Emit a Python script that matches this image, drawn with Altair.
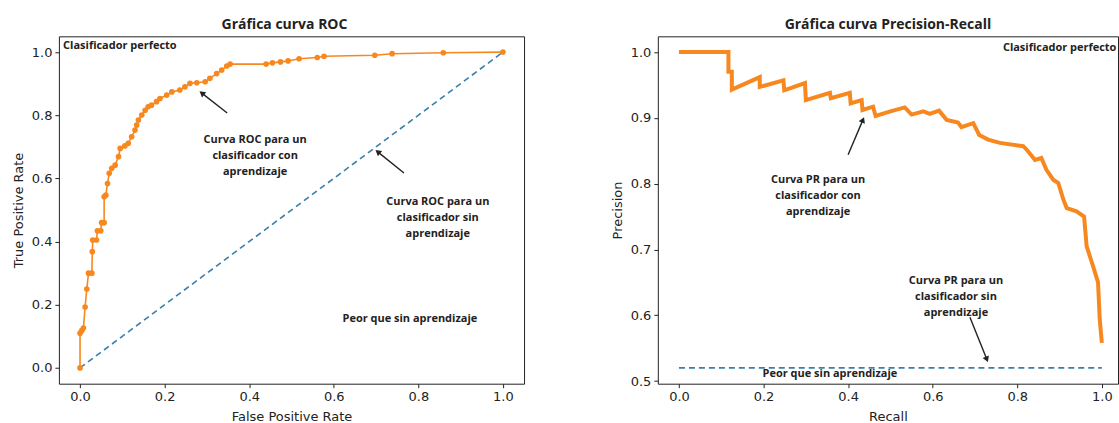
import math
import altair as alt
import pandas as pd

# ---------------- data ----------------
roc_fpr = [0.000, 0.000, 0.004, 0.008, 0.012, 0.016, 0.020, 0.028, 0.029, 0.030, 0.039, 0.041, 0.049, 0.051,
           0.057, 0.057, 0.061, 0.065, 0.069, 0.075, 0.083, 0.091, 0.095, 0.106, 0.114, 0.122, 0.130, 0.134,
           0.138, 0.146, 0.154, 0.161, 0.169, 0.181, 0.189, 0.205, 0.217, 0.236, 0.248, 0.260, 0.276, 0.296,
           0.307, 0.323, 0.335, 0.347, 0.355, 0.440, 0.455, 0.474, 0.492, 0.518, 0.561, 0.577, 0.697, 0.738,
           0.859, 1.000]
roc_tpr = [0.000, 0.110, 0.118, 0.126, 0.193, 0.250, 0.300, 0.300, 0.368, 0.405, 0.405, 0.434, 0.434, 0.460,
           0.460, 0.542, 0.547, 0.584, 0.616, 0.632, 0.642, 0.669, 0.695, 0.703, 0.711, 0.732, 0.753, 0.769,
           0.785, 0.801, 0.816, 0.827, 0.832, 0.843, 0.853, 0.864, 0.874, 0.880, 0.890, 0.901, 0.903, 0.906,
           0.917, 0.932, 0.943, 0.956, 0.962, 0.962, 0.966, 0.969, 0.972, 0.979, 0.983, 0.987, 0.990, 0.995,
           0.998, 1.000]

pr_recall = [0.000, 0.117, 0.117, 0.125, 0.125, 0.191, 0.191, 0.247, 0.249, 0.298, 0.300, 0.357, 0.359, 0.404,
             0.406, 0.432, 0.434, 0.459, 0.465, 0.500, 0.534, 0.550, 0.578, 0.593, 0.615, 0.633, 0.660, 0.668,
             0.696, 0.710, 0.731, 0.759, 0.814, 0.822, 0.842, 0.857, 0.869, 0.885, 0.897, 0.909, 0.917, 0.940,
             0.958, 0.964, 0.979, 0.991, 0.995, 1.000]
pr_precision = [1.000, 1.000, 0.970, 0.970, 0.943, 0.962, 0.947, 0.957, 0.942, 0.953, 0.927, 0.938, 0.930, 0.938,
                0.922, 0.927, 0.912, 0.917, 0.903, 0.910, 0.916, 0.905, 0.910, 0.906, 0.911, 0.897, 0.893, 0.886,
                0.892, 0.874, 0.867, 0.862, 0.857, 0.852, 0.836, 0.839, 0.821, 0.806, 0.801, 0.776, 0.763, 0.758,
                0.750, 0.705, 0.675, 0.650, 0.594, 0.558]

diag_x = [0.0, 1.0]
diag_y = [0.0, 1.0]
base_x = [0.0, 1.0]
base_y = [0.52, 0.52]

x_ticks = [0.0, 0.2, 0.4, 0.6, 0.8, 1.0]
roc_y_ticks = [0.0, 0.2, 0.4, 0.6, 0.8, 1.0]
pr_y_ticks = [0.5, 0.6, 0.7, 0.8, 0.9, 1.0]

# annotations (data coordinates)
roc_texts = ["Clasificador perfecto",
             "Curva ROC para un\nclasificador con\naprendizaje",
             "Curva ROC para un\nclasificador sin\naprendizaje",
             "Peor que sin aprendizaje"]
roc_text_x = [-0.040, 0.414, 0.846, 0.780]
roc_text_y = [1.019, 0.722, 0.525, 0.155]
roc_text_align = ["left", "center", "center", "center"]

pr_texts = ["Clasificador perfecto",
            "Curva PR para un\nclasificador con\naprendizaje",
            "Curva PR para un\nclasificador sin\naprendizaje",
            "Peor que sin aprendizaje"]
pr_text_x = [0.766, 0.329, 0.655, 0.357]
pr_text_y = [1.006, 0.805, 0.652, 0.511]
pr_text_align = ["left", "center", "center", "center"]

roc_arrow_x = [0.348, 0.766]
roc_arrow_y = [0.807, 0.617]
roc_arrow_x2 = [0.288, 0.704]
roc_arrow_y2 = [0.870, 0.684]

pr_arrow_x = [0.400, 0.688]
pr_arrow_y = [0.844, 0.597]
pr_arrow_x2 = [0.435, 0.728]
pr_arrow_y2 = [0.897, 0.533]

# ---------------- style ----------------
W_L, W_R, H = 466, 461, 348
ORANGE = "#f7881f"
BLUE = "#3b7ea8"
INK = "#222222"
ANN_FONT = "Open Sans"

roc_xdom = [-0.05, 1.05]
roc_ydom = [-0.05, 1.05]
pr_xdom = [-0.05, -0.05 + W_R * 1.1 / W_L]
pr_ydom = [0.496, 1.024]


def arrow_df(x, y, x2, y2, xdom, ydom, w, h):
    rows = []
    for a, b, c, d in zip(x, y, x2, y2):
        dx = (c - a) * w / (xdom[1] - xdom[0])
        dy = -(d - b) * h / (ydom[1] - ydom[0])
        ang = math.degrees(math.atan2(dx, -dy)) % 360
        rows.append({"x": a, "y": b, "x2": c, "y2": d, "angle": ang})
    return pd.DataFrame(rows)


def panel(curve_df, ref_df, texts_df, arrows_df, xdom, ydom, yticks, xtitle, ytitle, title, width,
          stroke_w, show_points, title_dx, clip_first):
    xs = alt.Scale(domain=xdom, nice=False, zero=False)
    ys = alt.Scale(domain=ydom, nice=False, zero=False)
    xax = alt.Axis(values=x_ticks, format=".1f", title=xtitle, titlePadding=7)
    yax = alt.Axis(values=yticks, format=".1f", title=ytitle, titlePadding=6)

    ref = alt.Chart(ref_df).mark_line(color=BLUE, strokeDash=[6, 4], strokeWidth=1.6).encode(
        x=alt.X("x:Q", scale=xs, axis=xax),
        y=alt.Y("y:Q", scale=ys, axis=yax),
        order="i:Q",
    )
    line = alt.Chart(curve_df).mark_line(color=ORANGE, strokeWidth=stroke_w).encode(
        x=alt.X("x:Q", scale=xs), y=alt.Y("y:Q", scale=ys), order="i:Q"
    )
    layers = [ref, line]
    if show_points:
        pts = alt.Chart(curve_df).mark_circle(color=ORANGE, size=32, opacity=1).encode(
            x=alt.X("x:Q", scale=xs), y=alt.Y("y:Q", scale=ys)
        )
        layers.append(pts)
    shafts = alt.Chart(arrows_df).mark_rule(color=INK, strokeWidth=1.4).encode(
        x=alt.X("x:Q", scale=xs), y=alt.Y("y:Q", scale=ys), x2="x2:Q", y2="y2:Q"
    )
    heads = alt.Chart(arrows_df).mark_point(shape="triangle-up", filled=True, color=INK, size=45, opacity=1).encode(
        x=alt.X("x2:Q", scale=xs), y=alt.Y("y2:Q", scale=ys), angle=alt.Angle("angle:Q", scale=None)
    )
    layers += [shafts, heads]
    for i, row in texts_df.iterrows():
        t = alt.Chart(texts_df.iloc[[i]]).mark_text(
            font=ANN_FONT, fontSize=11, fontWeight="bold", color=INK, align=row["align"],
            baseline="middle", lineBreak="\n", lineHeight=16, clip=(clip_first and i == 0)
        ).encode(x=alt.X("x:Q", scale=xs), y=alt.Y("y:Q", scale=ys), text="t:N")
        layers.append(t)
    return alt.layer(*layers).properties(
        width=width, height=H,
        title=alt.TitleParams(title, font=ANN_FONT, fontSize=14, fontWeight="bold", color=INK,
                              anchor="middle", offset=-7, baseline="alphabetic", dx=title_dx),
    )


roc_df = pd.DataFrame({"x": roc_fpr, "y": roc_tpr, "i": range(len(roc_fpr))})
pr_df = pd.DataFrame({"x": pr_recall, "y": pr_precision, "i": range(len(pr_recall))})
diag_df = pd.DataFrame({"x": diag_x, "y": diag_y, "i": range(2)})
base_df = pd.DataFrame({"x": base_x, "y": base_y, "i": range(2)})
roc_t = pd.DataFrame({"x": roc_text_x, "y": roc_text_y, "t": roc_texts, "align": roc_text_align})
pr_t = pd.DataFrame({"x": pr_text_x, "y": pr_text_y, "t": pr_texts, "align": pr_text_align})
roc_a = arrow_df(roc_arrow_x, roc_arrow_y, roc_arrow_x2, roc_arrow_y2, roc_xdom, roc_ydom, W_L, H)
pr_a = arrow_df(pr_arrow_x, pr_arrow_y, pr_arrow_x2, pr_arrow_y2, pr_xdom, pr_ydom, W_R, H)

left = panel(roc_df, diag_df, roc_t, roc_a, roc_xdom, roc_ydom, roc_y_ticks, "False Positive Rate",
             "True Positive Rate", "Gráfica curva ROC", W_L, 1.6, True, -7, False)
right = panel(pr_df, base_df, pr_t, pr_a, pr_xdom, pr_ydom, pr_y_ticks, "Recall", "Precision",
              "Gráfica curva Precision-Recall", W_R, 4, False, 0, True)

chart = alt.hconcat(left, right, spacing=134, bounds="flush").configure_view(
    stroke=INK, strokeWidth=1
).configure_axis(
    labelFont="DejaVu Sans", labelFontSize=13, labelColor=INK,
    titleFont="DejaVu Sans", titleFontSize=13, titleFontWeight="normal", titleColor=INK,
    tickColor=INK, tickSize=4, domain=False, grid=False, labelPadding=3, titlePadding=5,
).properties(
    padding={"left": 11, "top": 17, "right": 0, "bottom": 0},
    background="white",
)

chart.save("out.html", embed_options={"renderer": "svg", "actions": False})
